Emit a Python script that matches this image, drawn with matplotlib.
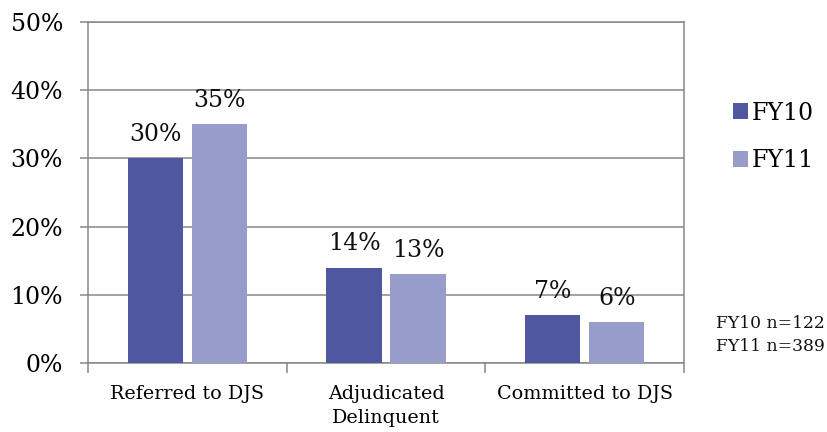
import matplotlib
matplotlib.use("Agg")
import matplotlib.pyplot as plt
import numpy as np

categories = ["Referred to DJS", "Adjudicated\nDelinquent", "Committed to DJS"]
series_names = ["FY10", "FY11"]
fy10 = [30, 14, 7]
fy11 = [35, 13, 6]
y_ticks = [0, 10, 20, 30, 40, 50]
sample_note = ["FY10 n=122", "FY11 n=389"]

colors = ["#4F57A1", "#989CCB"]
grid_color = "#878787"

plt.rcParams["font.family"] = ["DejaVu Serif"]

fig = plt.figure(figsize=(8.28, 4.32), dpi=100)
ax = fig.add_axes([88 / 828, 1 - 363 / 432, (684 - 88) / 828, (363 - 22) / 432])

x = np.arange(len(categories))
width = 0.277
offset = 0.161

for vals, sign, col, name in zip([fy10, fy11], [-1, 1], colors, series_names):
    b = ax.bar(x + sign * offset, vals, width, color=col, label=name, zorder=3)
    for rect, v in zip(b, vals):
        ax.annotate(f"{v}%", (rect.get_x() + rect.get_width() / 2, v),
                    xytext=(0, 9), textcoords="offset points",
                    ha="center", va="bottom", fontsize=17, color="#111111")

ax.set_xlim(-0.5, 2.5)
ax.set_ylim(0, 50)
ax.set_yticks(y_ticks)
ax.set_yticklabels([f"{t}%" for t in y_ticks], fontsize=17)
ax.yaxis.grid(True, color=grid_color, linewidth=1.1, zorder=0)

ax.set_xticks([-0.5, 0.5, 1.5, 2.5])
ax.set_xticklabels([])
ax.set_xticks(x, minor=True)
ax.set_xticklabels(categories, minor=True, fontsize=13.8, linespacing=1.4)
ax.tick_params(axis="x", which="major", length=7, width=1.1, color=grid_color)
ax.tick_params(axis="x", which="minor", length=0, pad=16)
ax.tick_params(axis="y", length=6, width=1.1, color=grid_color, pad=12)

for side in ["left", "bottom", "right", "top"]:
    ax.spines[side].set_color(grid_color)
    ax.spines[side].set_linewidth(1.1)

ax.legend(loc="center left", bbox_to_anchor=(721 / 828, 1 - 137 / 432),
          bbox_transform=fig.transFigure, frameon=False, fontsize=17,
          handlelength=0.65, handleheight=0.65, handletextpad=0.15,
          labelspacing=1.05, borderpad=0)

fig.text(716 / 828, 1 - 335 / 432, "\n".join(sample_note), fontsize=12.3,
         ha="left", va="center", linespacing=1.45, color="#111111")

fig.savefig("out.png", dpi=100)
